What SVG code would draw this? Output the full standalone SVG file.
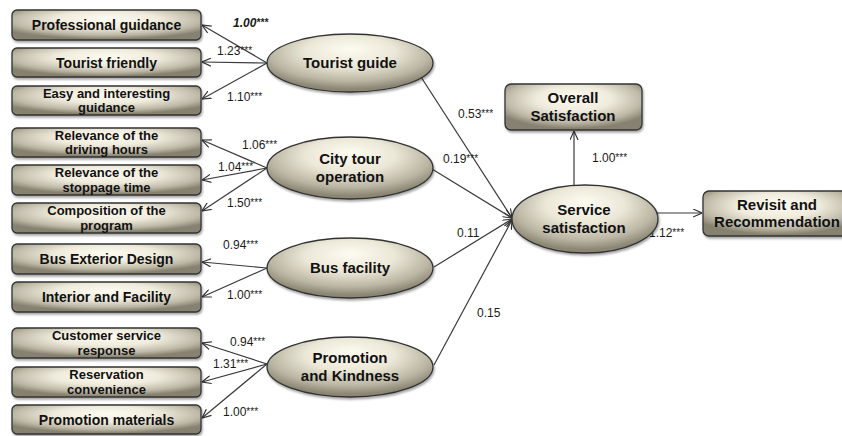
<svg xmlns="http://www.w3.org/2000/svg" width="842" height="436" viewBox="0 0 842 436">
<defs>
<radialGradient id="gb" cx="0.5" cy="0.35" r="0.62" fx="0.5" fy="0.3">
<stop offset="0" stop-color="#fdfbf1"/>
<stop offset="0.45" stop-color="#efebdc"/>
<stop offset="0.8" stop-color="#bdb8a6"/>
<stop offset="1" stop-color="#86816f"/>
</radialGradient>
<radialGradient id="ge" cx="0.5" cy="0.35" r="0.6" fx="0.5" fy="0.25">
<stop offset="0" stop-color="#fdfbf1"/>
<stop offset="0.45" stop-color="#ece8d8"/>
<stop offset="0.8" stop-color="#bbb6a3"/>
<stop offset="1" stop-color="#8c8774"/>
</radialGradient>
<filter id="sh" x="-10%" y="-10%" width="125%" height="135%">
<feDropShadow dx="1" dy="2" stdDeviation="1.2" flood-color="#000" flood-opacity="0.35"/>
</filter>
<marker id="ar" viewBox="0 0 10 10" refX="10" refY="5" markerWidth="9" markerHeight="9" markerUnits="userSpaceOnUse" orient="auto">
<path d="M0,0.5 L10,5 L0,9.5" fill="none" stroke="#333" stroke-width="1.3"/>
</marker>
</defs>
<style>
.box{fill:url(#gb);stroke:#333;stroke-width:1.3;filter:url(#sh)}
.ell{fill:url(#ge);stroke:#333;stroke-width:1.3;filter:url(#sh)}
.t{font-family:"Liberation Sans",Arial,sans-serif;font-weight:bold;font-size:14px;fill:#111;text-anchor:middle}
.t2{font-family:"Liberation Sans",Arial,sans-serif;font-weight:bold;font-size:13px;fill:#111;text-anchor:middle}
.te{font-family:"Liberation Sans",Arial,sans-serif;font-weight:bold;font-size:15px;fill:#111;text-anchor:middle}
.c line{stroke:#3a3a3a;stroke-width:1.2;marker-end:url(#ar)}
.n{font-family:"Liberation Sans",Arial,sans-serif;font-size:12px;fill:#1a1a1a}
.s{font-size:10px}
</style>
<rect width="842" height="436" fill="#fff"/>
<g class="c" id="connectors">
<line x1="267" y1="63" x2="202" y2="25"/>
<line x1="267" y1="63" x2="202" y2="62"/>
<line x1="267" y1="63" x2="202" y2="99"/>
<line x1="267" y1="168" x2="202" y2="140"/>
<line x1="267" y1="168" x2="202" y2="180"/>
<line x1="267" y1="168" x2="202" y2="211"/>
<line x1="267" y1="268" x2="202" y2="262"/>
<line x1="267" y1="268" x2="202" y2="297"/>
<line x1="267" y1="364" x2="202" y2="343"/>
<line x1="267" y1="364" x2="202" y2="382"/>
<line x1="267" y1="364" x2="202" y2="418"/>
<line x1="421" y1="77" x2="512" y2="218"/>
<line x1="432" y1="169" x2="512" y2="218"/>
<line x1="434" y1="267" x2="512" y2="219"/>
<line x1="434" y1="365" x2="512" y2="220"/>
<line x1="574" y1="185" x2="574" y2="131"/>
<line x1="657" y1="213" x2="702" y2="213"/>
</g>
<g id="labels">
<text class="n" x="233" y="27" font-style="italic" font-weight="bold">1.00<tspan class="s" dy="-1">***</tspan></text>
<text class="n" x="217" y="55">1.23<tspan class="s" dy="-1">***</tspan></text>
<text class="n" x="227" y="101">1.10<tspan class="s" dy="-1">***</tspan></text>
<text class="n" x="242" y="149">1.06<tspan class="s" dy="-1">***</tspan></text>
<text class="n" x="218" y="171">1.04<tspan class="s" dy="-1">***</tspan></text>
<text class="n" x="227" y="207">1.50<tspan class="s" dy="-1">***</tspan></text>
<text class="n" x="223" y="249">0.94<tspan class="s" dy="-1">***</tspan></text>
<text class="n" x="227" y="299">1.00<tspan class="s" dy="-1">***</tspan></text>
<text class="n" x="230" y="346">0.94<tspan class="s" dy="-1">***</tspan></text>
<text class="n" x="213" y="368">1.31<tspan class="s" dy="-1">***</tspan></text>
<text class="n" x="223" y="416">1.00<tspan class="s" dy="-1">***</tspan></text>
<text class="n" x="458" y="118">0.53<tspan class="s" dy="-1">***</tspan></text>
<text class="n" x="443" y="163">0.19<tspan class="s" dy="-1">***</tspan></text>
<text class="n" x="457" y="237">0.11</text>
<text class="n" x="477" y="317">0.15</text>
<text class="n" x="592" y="162">1.00<tspan class="s" dy="-1">***</tspan></text>
<text class="n" x="649" y="237">1.12<tspan class="s" dy="-1">***</tspan></text>
</g>
<g id="professional-guidance"><rect class="box" x="12" y="10" width="189" height="30" rx="5"/><text class="t" x="106.5" y="30">Professional guidance</text></g>
<g id="tourist-friendly"><rect class="box" x="12" y="48" width="189" height="29" rx="5"/><text class="t" x="106.5" y="68">Tourist friendly</text></g>
<g id="easy-interesting"><rect class="box" x="12" y="86" width="189" height="29" rx="5"/><text class="t2" x="106.5" y="97.5">Easy and interesting</text><text class="t2" x="106.5" y="112">guidance</text></g>
<g id="driving-hours"><rect class="box" x="12" y="128" width="189" height="29" rx="5"/><text class="t2" x="106.5" y="139.5">Relevance of the</text><text class="t2" x="106.5" y="154">driving hours</text></g>
<g id="stoppage-time"><rect class="box" x="12" y="165" width="189" height="30" rx="5"/><text class="t2" x="106.5" y="177">Relevance of the</text><text class="t2" x="106.5" y="191.5">stoppage time</text></g>
<g id="composition"><rect class="box" x="12" y="203" width="189" height="30" rx="5"/><text class="t2" x="106.5" y="215">Composition of the</text><text class="t2" x="106.5" y="229.5">program</text></g>
<g id="bus-exterior"><rect class="box" x="12" y="244" width="189" height="30" rx="5"/><text class="t" x="106.5" y="264">Bus Exterior Design</text></g>
<g id="interior-facility"><rect class="box" x="12" y="282" width="189" height="30" rx="5"/><text class="t" x="106.5" y="302">Interior and Facility</text></g>
<g id="customer-service"><rect class="box" x="12" y="328" width="189" height="30" rx="5"/><text class="t2" x="106.5" y="340">Customer service</text><text class="t2" x="106.5" y="354.5">response</text></g>
<g id="reservation"><rect class="box" x="12" y="367" width="189" height="30" rx="5"/><text class="t2" x="106.5" y="379">Reservation</text><text class="t2" x="106.5" y="393.5">convenience</text></g>
<g id="promotion-materials"><rect class="box" x="12" y="405" width="189" height="29" rx="5"/><text class="t" x="106.5" y="425">Promotion materials</text></g>
<g id="tourist-guide"><ellipse class="ell" cx="350" cy="63" rx="83" ry="29"/><text class="te" x="350" y="68">Tourist guide</text></g>
<g id="city-tour"><ellipse class="ell" cx="350" cy="168" rx="83" ry="31"/><text class="te" x="350" y="164">City tour</text><text class="te" x="350" y="182">operation</text></g>
<g id="bus-facility"><ellipse class="ell" cx="350" cy="268" rx="83" ry="30"/><text class="te" x="350" y="273">Bus facility</text></g>
<g id="promotion-kindness"><ellipse class="ell" cx="350" cy="367" rx="83" ry="30"/><text class="te" x="350" y="363">Promotion</text><text class="te" x="350" y="381">and Kindness</text></g>
<g id="service-satisfaction"><ellipse class="ell" cx="585" cy="219" rx="73" ry="34"/><text class="te" x="584" y="215">Service</text><text class="te" x="584" y="233">satisfaction</text></g>
<g id="overall-satisfaction"><rect class="box" x="505" y="84" width="137" height="46" rx="6"/><text class="te" x="573" y="103">Overall</text><text class="te" x="573" y="121">Satisfaction</text></g>
<g id="revisit"><rect class="box" x="703" y="191" width="150" height="45" rx="6"/><text class="te" x="777" y="210">Revisit and</text><text class="te" x="777" y="227">Recommendation</text></g>
</svg>
